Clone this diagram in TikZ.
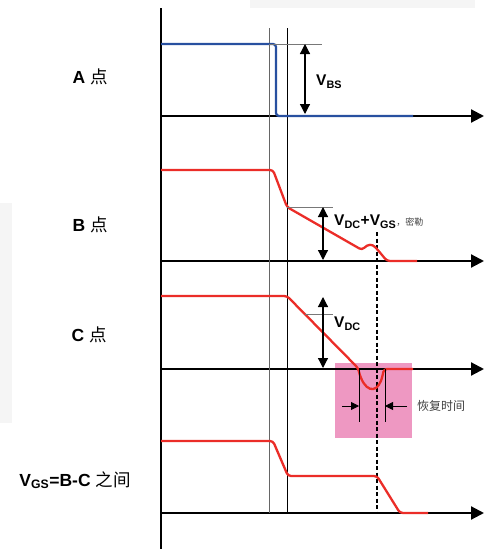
\documentclass[tikz,border=0pt]{standalone}
\usepackage{fontspec}
\setmainfont{Liberation Sans}
\newfontfamily\cjk{Noto Sans CJK SC}
\usetikzlibrary{arrows.meta}
\definecolor{wblue}{RGB}{40,80,160}
\definecolor{wred}{RGB}{235,45,40}
\definecolor{pinkbox}{RGB}{238,152,194}
\definecolor{lgray}{RGB}{120,120,120}
\begin{document}
\begin{tikzpicture}[x=1pt,y=-1pt,
  axisline/.style={line width=2.2pt,-{Triangle[length=13pt,width=13pt]}},
  vline/.style={line width=0.8pt},
  gline/.style={line width=0.8pt,draw=lgray},
  wave/.style={line width=2.3pt,rounded corners=3pt},
  dimarrow/.style={line width=1.2pt,{Triangle[length=10pt,width=10pt]}-{Triangle[length=10pt,width=10pt]}},
  tarrow/.style={line width=0.8pt,-{Triangle[length=8pt,width=8pt]}},
  lab/.style={font=\bfseries\fontsize{17.5}{20}\selectfont,inner sep=0pt},
  vlab/.style={font=\bfseries\fontsize{15.5}{18}\selectfont,inner sep=0pt,anchor=west}]
\useasboundingbox (0,0) rectangle (487,549);
% faint background artifacts
\fill[black!4] (0,203) rectangle (12,423);
\fill[black!4] (250,0) rectangle (475,8);
% pink box
\fill[pinkbox] (335,363) rectangle (412,438);
% axes
\coordinate (vtop) at (161,8); \coordinate (vbot) at (161,549);
\draw[line width=2.2pt] (vtop) -- (vbot);
\coordinate (a0) at (161,116); \coordinate (a1) at (484,116);
\coordinate (b0) at (161,261); \coordinate (b1) at (484,261);
\coordinate (c0) at (161,369); \coordinate (c1) at (484,369);
\coordinate (d0) at (161,513); \coordinate (d1) at (484,513);
\draw[axisline] (a0) -- (a1);
\draw[axisline] (b0) -- (b1);
\draw[axisline] (c0) -- (c1);
\draw[axisline] (d0) -- (d1);
% vertical time markers
\coordinate (t1t) at (269,28); \coordinate (t1b) at (269,513);
\coordinate (t2t) at (287,28); \coordinate (t2b) at (287,513);
\draw[vline,draw=black!60] (t1t) -- (t1b);
\draw[vline] (t2t) -- (t2b);
\coordinate (dt) at (377,232); \coordinate (db) at (377,513);
\draw[line width=1.3pt,dash pattern=on 4pt off 2.5pt] (dt) -- (db);
% A waveform
\draw[wave,draw=wblue] (161,44) -- (276,44) -- (276,116) -- (413,116);
\coordinate (g1a) at (269,44); \coordinate (g1b) at (322,44);
\draw[gline] (g1a) -- (g1b);
\coordinate (vbs1) at (305,44); \coordinate (vbs2) at (305,114);
\draw[dimarrow] (vbs1) -- (vbs2);
\node[vlab] (vbs) at (316,82) {V\textsubscript{BS}};
% B waveform
\draw[wave,draw=wred] (161,170) -- (273,170) -- (287,207) -- (362,250)
  .. controls (368,244) and (372,244) .. (377,249) -- (387,261) -- (417,261);
\coordinate (g2a) at (287,207); \coordinate (g2b) at (333,207);
\draw[gline] (g2a) -- (g2b);
\coordinate (vdb1) at (323,207); \coordinate (vdb2) at (323,260);
\draw[dimarrow] (vdb1) -- (vdb2);
\node[vlab] (vdcgs) at (334,222) {V\textsubscript{DC}+V\textsubscript{GS}{\mdseries\cjk\fontsize{9}{10}\selectfont\color{black!75}，密勒}};
% C waveform
\draw[wave,draw=wred] (161,296) -- (287,296) -- (358,368)
  .. controls (364,392) and (376,394) .. (382,378) -- (384,369) -- (413,369);
\coordinate (g3a) at (305,314); \coordinate (g3b) at (333,314);
\draw[gline] (g3a) -- (g3b);
\coordinate (vdc1) at (323,297); \coordinate (vdc2) at (323,368);
\draw[dimarrow] (vdc1) -- (vdc2);
\node[vlab] (vdc) at (334,324) {V\textsubscript{DC}};
% recovery time
\coordinate (r1t) at (359,369); \coordinate (r1b) at (359,422);
\coordinate (r2t) at (385,369); \coordinate (r2b) at (385,422);
\draw[line width=0.8pt] (r1t) -- (r1b);
\draw[line width=0.8pt] (r2t) -- (r2b);
\coordinate (ra0) at (342,406); \coordinate (ra1) at (359,406);
\coordinate (rb0) at (407,406); \coordinate (rb1) at (385,406);
\draw[tarrow] (ra0) -- (ra1);
\draw[tarrow] (rb0) -- (rb1);
\node[font=\cjk\fontsize{12}{14}\selectfont,text=black!75,inner sep=0pt] (rec) at (441,406) {恢复时间};
% D waveform
\draw[wave,draw=wred] (161,441) -- (273,441) -- (288,476) -- (377,476) -- (400,513) -- (428,513);
% left labels
\node[lab] (la) at (90,77) {A {\mdseries\cjk 点}};
\node[lab] (lb) at (90,225) {B {\mdseries\cjk 点}};
\node[lab] (lc) at (89,335) {C {\mdseries\cjk 点}};
\node[lab] (ld) at (75,480) {V\textsubscript{GS}=B-C {\mdseries\cjk 之间}};
\end{tikzpicture}
\end{document}
